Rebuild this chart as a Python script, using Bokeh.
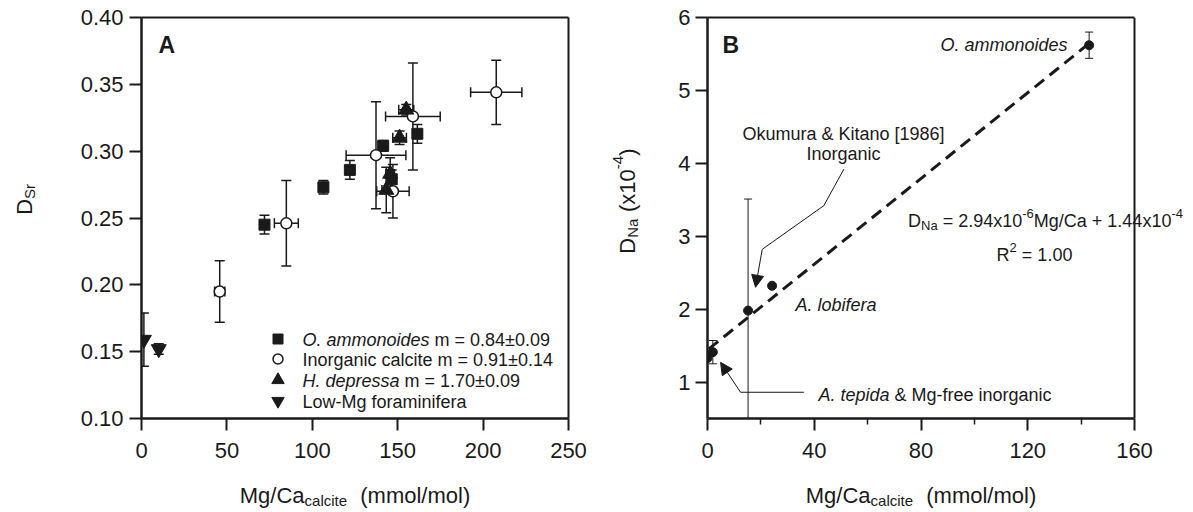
import numpy as np
from bokeh.plotting import figure
from bokeh.models import (ColumnDataSource, Label, Legend, LegendItem, FixedTicker,
                          PrintfTickFormatter, Arrow, NormalHead, Range1d, LinearAxis)
from bokeh.layouts import row, column
from bokeh.embed import file_html
from bokeh.resources import INLINE

FONT = "Liberation Sans"
INK = "#1a1a1a"

# ---------------- Panel A data (D_Sr vs Mg/Ca) ----------------
oam_mgca = [72.0, 106.5, 122.0, 141.5, 146.5, 161.5]
oam_dsr = [0.245, 0.273, 0.286, 0.304, 0.279, 0.313]
oam_yerr = [0.007, 0.005, 0.007, 0.004, 0.007, 0.007]

inorg_mgca = [45.8, 84.8, 137.3, 147.2, 158.9, 207.7]
inorg_dsr = [0.195, 0.246, 0.297, 0.270, 0.326, 0.344]
inorg_yerr = [0.023, 0.032, 0.040, 0.020, 0.040, 0.024]
inorg_xerr = [3.0, 7.0, 17.5, 9.5, 16.0, 15.0]

hdep_mgca = [143.3, 145.6, 151.1, 155.0]
hdep_dsr = [0.271, 0.283, 0.310, 0.331]
hdep_yerr = [0.017, 0.012, 0.005, 0.004]
hdep_xerr = [2.5, 2.5, 4.0, 4.4]

lowmg_mgca = [1.4, 10.1]
lowmg_dsr = [0.159, 0.152]
lowmg_yerr = [0.020, 0.004]

# ---------------- Panel B data (D_Na vs Mg/Ca) ----------------
b_labels = ["O. ammonoides", "A. lobifera", "Okumura & Kitano [1986]", "A. tepida", "Mg-free inorganic"]
b_mgca = [143.0, 24.2, 15.2, 2.0, 0.0]
b_dna = [5.62, 2.32, 1.98, 1.41, 1.33]
b_err = [0.18, 0.03, 1.53, 0.16, 0.0]
fit_slope = 2.94e-6 / 1e-4   # D_Na in units of 1e-4
fit_intercept = 1.44e-4 / 1e-4

a_xticks = [0, 50, 100, 150, 200, 250]
a_yticks = [0.10, 0.15, 0.20, 0.25, 0.30, 0.35, 0.40]
b_xticks = [0, 40, 80, 120, 160]
b_xminor = [20, 60, 100, 140]
b_yticks = [1, 2, 3, 4, 5, 6]
B_XMAX = 160
B_YMIN, B_YMAX = 0.5, 6.0

# ---------------- text helpers ----------------
W = {' ': 278, '&': 667, '(': 333, ')': 333, '+': 584, '-': 333, '.': 278, '/': 278, '=': 584,
     '[': 278, ']': 278, '±': 584, 'A': 667, 'B': 667, 'C': 722, 'D': 722, 'H': 722, 'I': 278,
     'K': 667, 'L': 556, 'M': 833, 'N': 722, 'O': 778, 'R': 722, 'S': 667, 'a': 556, 'b': 556,
     'c': 500, 'd': 556, 'e': 556, 'f': 278, 'g': 556, 'h': 556, 'i': 222, 'k': 500, 'l': 222,
     'm': 833, 'n': 556, 'o': 556, 'p': 556, 'r': 333, 's': 500, 't': 278, 'u': 556, 'x': 500}


def tw(s, size):
    return sum(W.get(c, 556) for c in s) * size / 1000.0


def rich(p, x, y, parts, size, align="left", angle=0.0, xo=0.0, yo=0.0, bold=False):
    """Compose mixed-style text (italic / sub / sup) from several Labels, centred vertically on (x, y)."""
    sub = round(size * 0.7)
    widths = []
    for t, k in parts:
        if k == "gap":
            widths.append(t * size)
        else:
            widths.append(tw(t, sub if k in ("sub", "sup") else size))
    total = sum(widths)
    pos = {"left": 0.0, "center": -total / 2.0, "right": -total}[align]
    for (t, k), w in zip(parts, widths):
        if k != "gap":
            fs = sub if k in ("sub", "sup") else size
            perp = -0.07 * size + {"sub": -0.24 * size, "sup": 0.42 * size}.get(k, 0.0)
            if angle == 0:
                dx, dy = pos, perp
            else:
                dx, dy = -perp, pos
            p.add_layout(Label(x=x, y=y, x_offset=xo + dx, y_offset=yo + dy, text=t,
                               text_font=FONT, text_font_size=f"{fs}px", text_color=INK,
                               text_font_style=("bold" if bold else ("italic" if k == "i" else "normal")),
                               text_align="left", text_baseline="alphabetic", angle=angle))
        pos += w


def strip(w, h):
    s = figure(width=w, height=h, x_range=Range1d(0, w), y_range=Range1d(0, h),
               x_axis_type=None, y_axis_type=None, output_backend="svg", toolbar_location=None,
               min_border=0)
    s.outline_line_color = None
    s.xgrid.visible = False
    s.ygrid.visible = False
    return s


def bare_axis(**kw):
    return LinearAxis(ticker=FixedTicker(ticks=[], minor_ticks=[]), major_label_text_font_size="0px",
                      axis_line_width=2, axis_line_color=INK,
                      major_tick_line_color=None, minor_tick_line_color=None, **kw)


def style(p, xticks, yticks, xminor=None, yfmt=None, xstand=12, ystand=6, bounds=None, right_axis=True):
    p.xgrid.visible = False
    p.ygrid.visible = False
    p.outline_line_color = None
    p.background_fill_color = "white"
    p.border_fill_color = "white"
    p.xaxis.ticker = FixedTicker(ticks=xticks, minor_ticks=xminor or [])
    p.yaxis.ticker = FixedTicker(ticks=yticks, minor_ticks=[])
    if bounds:
        p.xaxis.bounds = bounds
    if yfmt:
        p.yaxis.formatter = PrintfTickFormatter(format=yfmt)
    for ax, st in ((p.xaxis[0], xstand), (p.yaxis[0], ystand)):
        ax.axis_line_width = 2.5
        ax.axis_line_color = INK
        ax.major_tick_line_width = 2
        ax.major_tick_line_color = INK
        ax.major_tick_in = 0
        ax.major_tick_out = 12
        ax.minor_tick_in = 0
        ax.minor_tick_out = 6
        ax.minor_tick_line_width = 1.5
        ax.minor_tick_line_color = INK
        ax.major_label_text_font = FONT
        ax.major_label_text_font_size = "22px"
        ax.major_label_text_color = INK
        ax.major_label_standoff = st
    top = bare_axis(bounds=bounds) if bounds else bare_axis()
    p.add_layout(top, "above")
    if right_axis:
        p.add_layout(bare_axis(), "right")


def errbars(p, x, y, yerr=None, xerr=None, lw=1.5, cap=10):
    x = np.asarray(x, float)
    y = np.asarray(y, float)
    if yerr is not None:
        e = np.asarray(yerr, float)
        m = e > 0
        src = ColumnDataSource(dict(x=x[m], lo=(y - e)[m], hi=(y + e)[m]))
        p.segment(x0="x", y0="lo", x1="x", y1="hi", source=src, line_color=INK, line_width=lw)
        p.scatter(x="x", y="lo", source=src, marker="dash", size=cap, line_color=INK, line_width=lw)
        p.scatter(x="x", y="hi", source=src, marker="dash", size=cap, line_color=INK, line_width=lw)
    if xerr is not None:
        e = np.asarray(xerr, float)
        src = ColumnDataSource(dict(y=y, lo=x - e, hi=x + e))
        p.segment(x0="lo", y0="y", x1="hi", y1="y", source=src, line_color=INK, line_width=lw)
        p.scatter(x="lo", y="y", source=src, marker="dash", angle=np.pi / 2, size=cap,
                  line_color=INK, line_width=lw)
        p.scatter(x="hi", y="y", source=src, marker="dash", angle=np.pi / 2, size=cap,
                  line_color=INK, line_width=lw)


TOP_H = 474     # height of the plotting row
XT_H = 512 - TOP_H

# ---------------- Panel A ----------------
pa = figure(width=555, height=TOP_H, x_range=Range1d(0, 250), y_range=Range1d(0.10, 0.40),
            output_backend="svg", toolbar_location=None,
            min_border_left=96, min_border_right=32, min_border_top=17, min_border_bottom=56)
style(pa, a_xticks, a_yticks, yfmt="%.2f", xstand=12, ystand=6)

errbars(pa, oam_mgca, oam_dsr, yerr=oam_yerr)
errbars(pa, inorg_mgca, inorg_dsr, yerr=inorg_yerr, xerr=inorg_xerr)
errbars(pa, hdep_mgca, hdep_dsr, yerr=hdep_yerr, xerr=hdep_xerr)
errbars(pa, lowmg_mgca, lowmg_dsr, yerr=lowmg_yerr)

r_oam = pa.scatter(oam_mgca, oam_dsr, marker="square", size=11, fill_color=INK, line_color=INK)
r_inorg = pa.scatter(inorg_mgca, inorg_dsr, marker="circle", size=11, fill_color="white",
                     line_color=INK, line_width=1.5)
r_hdep = pa.scatter(hdep_mgca, hdep_dsr, marker="triangle", size=15, fill_color=INK, line_color=INK)
r_low = pa.scatter(lowmg_mgca, lowmg_dsr, marker="inverted_triangle", size=15, fill_color=INK,
                   line_color=INK)

# one single-item legend per row (swatches), texts composed with mixed styles
PITCH = 20.7
legend_rows = [(r_oam, 25), (r_inorg, 25), (r_hdep, 31), (r_low, 31)]
for i, (r, box) in enumerate(legend_rows):
    centre_from_top = 321 + PITCH * i
    bottom = 401 - centre_from_top - box / 2.0
    pa.add_layout(Legend(items=[LegendItem(label=" ", renderers=[r])],
                         location=(136 - box / 2.0, bottom), glyph_width=box, glyph_height=box,
                         label_height=box, spacing=0, padding=0, margin=0, border_line_color=None,
                         background_fill_alpha=0, label_text_font_size="8px", label_standoff=0,
                         label_width=0))

legend_parts = [
    [("O. ammonoides", "i"), (0.278, "gap"), ("m = 0.84±0.09", "n")],
    [("Inorganic calcite m = 0.91±0.14", "n")],
    [("H. depressa", "i"), (0.278, "gap"), ("m = 1.70±0.09", "n")],
    [("Low-Mg foraminifera", "n")],
]
for i, parts in enumerate(legend_parts):
    rich(pa, 0, 0.40, parts, 18, xo=161, yo=-(321 + PITCH * i))

rich(pa, 0, 0.40, [("A", "n")], 23, xo=17, yo=-26, bold=True)

# ---------------- Panel B ----------------
# frame is widened to the right so the equation may run past the box edge at Mg/Ca = 160
pb = figure(width=543, height=TOP_H, x_range=Range1d(0, B_XMAX * 483 / 427),
            y_range=Range1d(B_YMIN, B_YMAX), output_backend="svg", toolbar_location=None,
            min_border_left=57, min_border_right=3, min_border_top=17, min_border_bottom=56)
style(pb, b_xticks, b_yticks, xminor=b_xminor, xstand=12, ystand=5, bounds=(0, B_XMAX), right_axis=False)
# right edge of the box
edge = ColumnDataSource(dict(x=[B_XMAX, B_XMAX], y=[B_YMIN, B_YMAX]))
pb.line(x="x", y="y", source=edge, line_color=INK, line_width=2)

fit_x = np.array([0.5, max(b_mgca)])
pb.line(fit_x, fit_intercept + fit_slope * fit_x, line_color=INK, line_width=3, line_dash="12 7")

errbars(pb, b_mgca, b_dna, yerr=b_err, lw=1, cap=8)
pb.scatter(b_mgca, b_dna, marker="circle", size=9, fill_color=INK, line_color=INK)

# leader lines with arrows
ok_lead_x = [51.1, 43.6, 20.5]
ok_lead_y = [3.92, 3.42, 2.82]
ok_tip = (18.0, 2.30)
tp_lead_x = [36.1, 12.4]
tp_lead_y = [0.86, 0.86]
tp_tip = (4.9, 1.27)
pb.line(ok_lead_x, ok_lead_y, line_color=INK, line_width=1)
pb.line(tp_lead_x, tp_lead_y, line_color=INK, line_width=1)
pb.add_layout(Arrow(end=NormalHead(size=12, fill_color=INK, line_color=INK, line_width=1),
                    x_start=ok_lead_x[-1], y_start=ok_lead_y[-1], x_end=ok_tip[0], y_end=ok_tip[1],
                    line_color=INK, line_width=1))
pb.add_layout(Arrow(end=NormalHead(size=12, fill_color=INK, line_color=INK, line_width=1),
                    x_start=tp_lead_x[-1], y_start=tp_lead_y[-1], x_end=tp_tip[0], y_end=tp_tip[1],
                    line_color=INK, line_width=1))

rich(pb, 0, 6.0, [("B", "n")], 23, xo=15, yo=-26, bold=True)
rich(pb, 0, 6.0, [("O. ammonoides", "i")], 18, align="right", xo=360, yo=-26)
rich(pb, 0, 6.0, [("Okumura & Kitano [1986]", "n")], 18, align="center", xo=136, yo=-115)
rich(pb, 0, 6.0, [("Inorganic", "n")], 18, align="center", xo=136, yo=-135)
rich(pb, 0, 6.0, [("A. lobifera", "i")], 18, xo=88, yo=-286)
rich(pb, 0, 6.0, [("A. tepida", "i"), (0.278, "gap"), ("& Mg-free inorganic", "n")], 18, xo=111, yo=-376)
rich(pb, 0, 6.0, [("D", "n"), ("Na", "sub"), (0.28, "gap"), ("= 2.94x10", "n"), ("-6", "sup"),
                  ("Mg/Ca + 1.44x10", "n"), ("-4", "sup")], 18, align="center", xo=338, yo=-202)
rich(pb, 0, 6.0, [("R", "n"), ("2", "sup"), (0.28, "gap"), ("= 1.00", "n")], 18, align="center",
     xo=327, yo=-236)

# ---------------- axis-title strips ----------------
ya = strip(45, TOP_H)
rich(ya, 22, TOP_H - 215, [("D", "n"), ("Sr", "sub")], 22, align="center", angle=np.pi / 2)
yb = strip(50, TOP_H)
rich(yb, 25, TOP_H - 217, [("D", "n"), ("Na", "sub"), (0.3, "gap"), ("(x10", "n"), ("-4", "sup"), (")", "n")],
     22, align="center", angle=np.pi / 2)
xa = strip(600, XT_H)
rich(xa, 354.5, XT_H - 19, [("Mg/Ca", "n"), ("calcite", "sub"), (0.6, "gap"), ("(mmol/mol)", "n")], 22,
     align="center")
xb = strip(593, XT_H)
rich(xb, 320.5, XT_H - 19, [("Mg/Ca", "n"), ("calcite", "sub"), (0.6, "gap"), ("(mmol/mol)", "n")], 22,
     align="center")

layout = row(column(row(ya, pa), xa), column(row(yb, pb), xb))
open("out.html", "w").write(file_html(layout, INLINE))
